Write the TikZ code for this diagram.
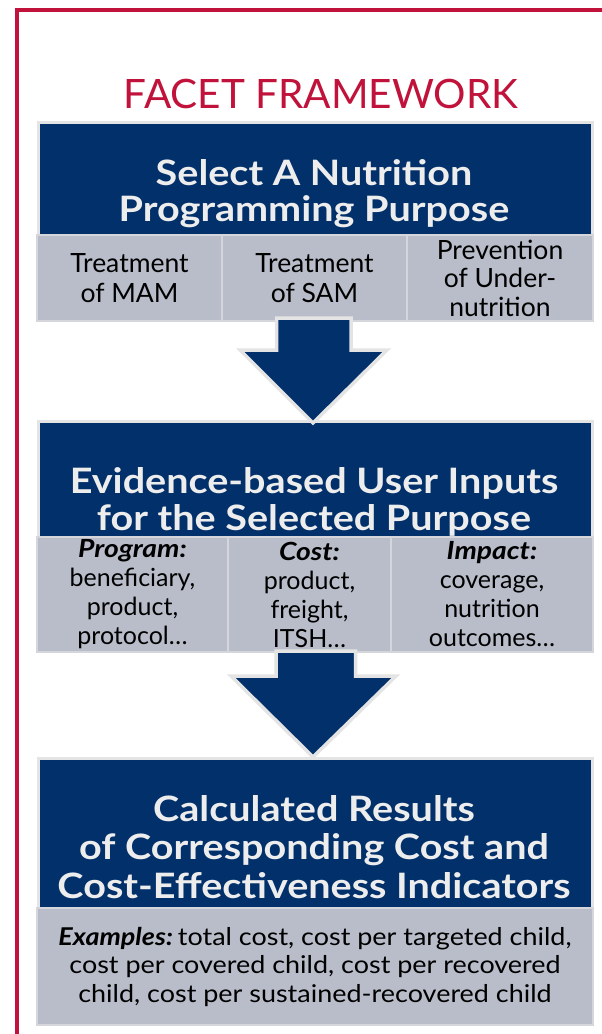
\documentclass[tikz,border=0pt]{standalone}
\usepackage{fontspec}
\setmainfont{Lato}
\newfontfamily\widefont[FakeStretch=1.13]{Lato}
\newfontfamily\exfont[FakeStretch=1.1]{Lato}
\definecolor{navy}{HTML}{02306A}
\definecolor{edge}{HTML}{E4E4E4}
\definecolor{subgray}{HTML}{B8BDC9}
\definecolor{subedge}{HTML}{D4D6DC}
\definecolor{framered}{HTML}{C0123A}
\definecolor{ttext}{HTML}{EDEDED}
\newcommand{\lbl}[1]{{\widefont\bfseries\itshape #1}}
\begin{document}
\begin{tikzpicture}[x=1pt,y=-1pt,
  navybox/.style={draw=edge, fill=navy, line width=3pt, inner sep=0pt, anchor=north west},
  subbox/.style={draw=subedge, fill=subgray, line width=2pt, inner sep=0pt, anchor=north west, align=center, text=black},
  boxtitle/.style={text=ttext, align=center, inner sep=0pt, font=\widefont\bfseries\fontsize{35}{37.5}\selectfont},
  blockarrow/.style={draw=edge, fill=navy, line width=3.5pt, line join=miter}]
\useasboundingbox (0,0) rectangle (602,1034);
% red frame
\draw[framered, line width=4pt, line join=miter] (17,1040) -- (17,10) -- (612,10);
\node[text=framered, anchor=base, inner sep=0pt, font=\fontsize{40.5}{46}\selectfont] (title) at (321,108) {FACET FRAMEWORK};

% box 1
\node[navybox, minimum width=554pt, minimum height=119pt] (b1) at (37,121) {};
\node[boxtitle, font=\widefont\bfseries\fontsize{35}{36}\selectfont] (t1) at (314,194) {Select A Nutrition\\Programming Purpose};
\node[subbox, minimum width=185pt, minimum height=86pt, font=\fontsize{26.5}{30}\selectfont] (s11) at (36,234) {Treatment\\of MAM};
\node[subbox, minimum width=185pt, minimum height=86pt, font=\fontsize{26.5}{30}\selectfont] (s12) at (221,234) {Treatment\\of SAM};
\node[subbox, minimum width=186pt, minimum height=86pt, font=\fontsize{26.5}{28.5}\selectfont] (s13) at (406,234) {Prevention\\of Under-\\nutrition};

% box 2
\node[navybox, minimum width=554pt, minimum height=125pt] (b2) at (37,420) {};
\node[boxtitle] (t2) at (314,502) {Evidence-based User Inputs\\for the Selected Purpose};
\node[subbox, minimum width=191pt, minimum height=115pt, font=\fontsize{25}{29}\selectfont] (s21) at (36,536) {\lbl{Program:}\\beneficiary,\\product,\\protocol…};
\node[subbox, minimum width=163pt, minimum height=115pt, font=\fontsize{25}{29}\selectfont] (s22) at (227,536) {\lbl{Cost:}\\product,\\freight,\\ITSH…};
\node[subbox, minimum width=202pt, minimum height=115pt, font=\fontsize{25}{29}\selectfont] (s23) at (390,536) {\lbl{Impact:}\\coverage,\\nutrition\\outcomes…};

% box 3
\node[navybox, minimum width=554pt, minimum height=155pt] (b3) at (37,757) {};
\node[boxtitle, font=\widefont\bfseries\fontsize{35}{38.5}\selectfont] (t3) at (314,847) {Calculated Results\\of Corresponding Cost and\\Cost-Effectiveness Indicators};
\node[subbox, minimum width=556pt, minimum height=117pt, font=\exfont\fontsize{24.5}{28.5}\selectfont] (s31) at (36,907) {\textbf{\textit{Examples:}}\hspace{5pt}total cost, cost per targeted child,\\cost per covered child, cost per recovered\\child, cost per sustained-recovered child};

% arrows
\draw[blockarrow] (276.5,318) -- (351,318) -- (351,350) -- (387,350) -- (313,423) -- (240,350) -- (276.5,350) -- cycle;
\draw[blockarrow] (276,651) -- (355.5,651) -- (355.5,676) -- (396,676) -- (313,757) -- (231,676) -- (276,676) -- cycle;
\end{tikzpicture}
\end{document}
